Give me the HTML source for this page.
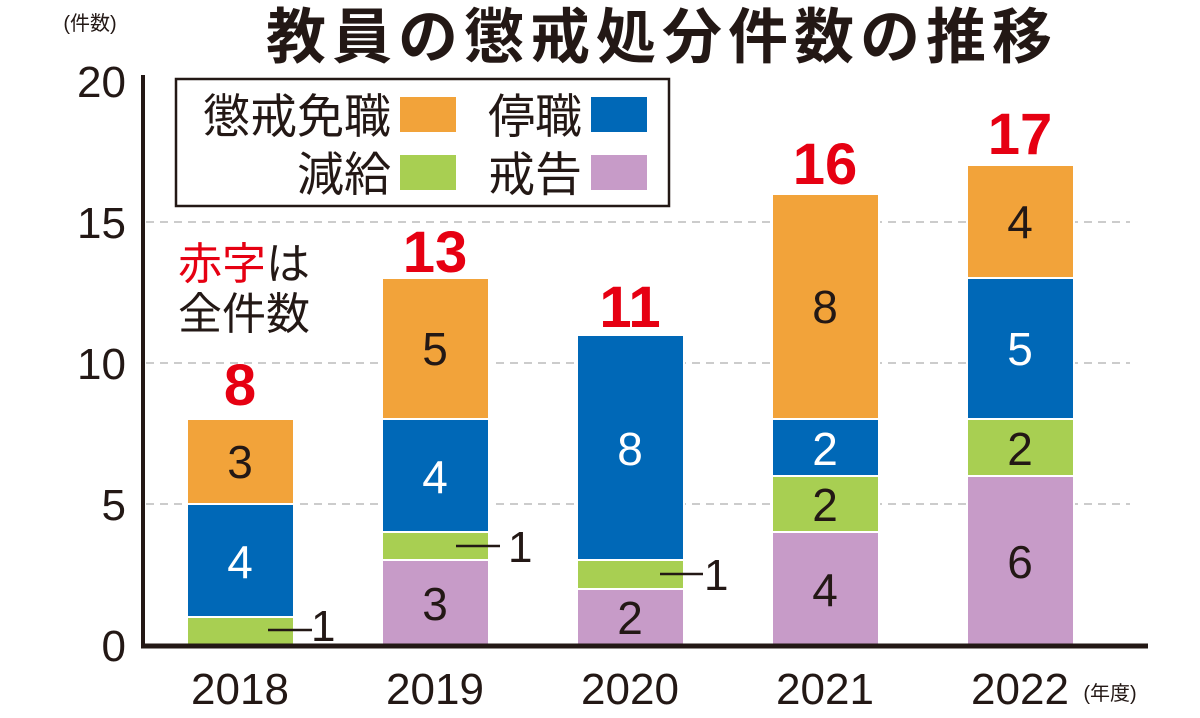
<!DOCTYPE html>
<html><head><meta charset="utf-8"><style>
html,body{margin:0;padding:0;background:#fff;}
svg text{font-family:"Liberation Sans","Noto Sans CJK JP",sans-serif;}
</style></head><body>
<svg width="1200" height="713" viewBox="0 0 1200 713" xmlns="http://www.w3.org/2000/svg">
<rect width="1200" height="713" fill="#fff"/>
<text x="662" y="58" text-anchor="middle" font-size="60" font-weight="bold" fill="#231815" letter-spacing="6">教員の懲戒処分件数の推移</text>
<text x="90" y="30" text-anchor="middle" font-size="20" fill="#231815">(件数)</text>
<g stroke="#bbb" stroke-width="1.5" stroke-dasharray="8,6">
<line x1="146" y1="504" x2="1130" y2="504"/>
<line x1="146" y1="363" x2="1130" y2="363"/>
<line x1="146" y1="222" x2="1130" y2="222"/>
</g>
<g font-size="44" fill="#231815" text-anchor="end">
<text x="126" y="661">0</text>
<text x="126" y="520">5</text>
<text x="126" y="379">10</text>
<text x="126" y="238">15</text>
<text x="126" y="97">20</text>
</g>
<g stroke="#fff" stroke-width="2">
<rect x="187" y="617" width="107" height="28" fill="#a8cf52"/>
<rect x="187" y="504" width="107" height="113" fill="#0068b7"/>
<rect x="187" y="419" width="107" height="85" fill="#f2a33a"/>
<rect x="382" y="560" width="107" height="85" fill="#c79bc8"/>
<rect x="382" y="532" width="107" height="28" fill="#a8cf52"/>
<rect x="382" y="419" width="107" height="113" fill="#0068b7"/>
<rect x="382" y="278" width="107" height="141" fill="#f2a33a"/>
<rect x="577" y="589" width="107" height="56" fill="#c79bc8"/>
<rect x="577" y="560" width="107" height="29" fill="#a8cf52"/>
<rect x="577" y="335" width="107" height="225" fill="#0068b7"/>
<rect x="772" y="532" width="107" height="113" fill="#c79bc8"/>
<rect x="772" y="476" width="107" height="56" fill="#a8cf52"/>
<rect x="772" y="419" width="107" height="57" fill="#0068b7"/>
<rect x="772" y="194" width="107" height="225" fill="#f2a33a"/>
<rect x="967" y="476" width="107" height="169" fill="#c79bc8"/>
<rect x="967" y="419" width="107" height="57" fill="#a8cf52"/>
<rect x="967" y="278" width="107" height="141" fill="#0068b7"/>
<rect x="967" y="165" width="107" height="113" fill="#f2a33a"/>
</g>
<line x1="143" y1="75" x2="143" y2="648" stroke="#231815" stroke-width="4"/>
<line x1="141" y1="646" x2="1148" y2="646" stroke="#231815" stroke-width="5"/>
<g font-size="46" text-anchor="middle">
<text x="240" y="478" fill="#231815">3</text>
<text x="240" y="578" fill="#fff">4</text>
<text x="435" y="365" fill="#231815">5</text>
<text x="435" y="493" fill="#fff">4</text>
<text x="435" y="620" fill="#231815">3</text>
<text x="630" y="465" fill="#fff">8</text>
<text x="630" y="634" fill="#231815">2</text>
<text x="825" y="323" fill="#231815">8</text>
<text x="825" y="465" fill="#fff">2</text>
<text x="825" y="521" fill="#231815">2</text>
<text x="825" y="606" fill="#231815">4</text>
<text x="1020" y="238" fill="#231815">4</text>
<text x="1020" y="365" fill="#fff">5</text>
<text x="1020" y="465" fill="#231815">2</text>
<text x="1020" y="578" fill="#231815">6</text>
</g>
<g stroke="#231815" stroke-width="2.5">
<line x1="268" y1="630" x2="312" y2="630"/>
<line x1="456" y1="546" x2="500" y2="546"/>
<line x1="660" y1="574" x2="703" y2="574"/>
</g>
<g font-size="44" fill="#231815">
<text x="311" y="641">1</text>
<text x="508" y="562">1</text>
<text x="704" y="590">1</text>
</g>
<g font-size="58" font-weight="bold" fill="#e60012" text-anchor="middle">
<text x="240" y="405">8</text>
<text x="435" y="272">13</text>
<text x="630" y="327">11</text>
<text x="825" y="184">16</text>
<text x="1020" y="154">17</text>
</g>
<g font-size="44" fill="#231815" text-anchor="middle">
<text x="240" y="704">2018</text>
<text x="435" y="704">2019</text>
<text x="630" y="704">2020</text>
<text x="825" y="704">2021</text>
<text x="1020" y="704">2022</text>
</g>
<text x="1110" y="700" text-anchor="middle" font-size="20" fill="#231815">(年度)</text>
<rect x="176" y="79" width="493" height="127" fill="#fff" stroke="#231815" stroke-width="2.5"/>
<g font-size="47" fill="#231815" text-anchor="end">
<text x="391" y="133">懲戒免職</text>
<text x="582" y="133">停職</text>
<text x="391" y="191">減給</text>
<text x="582" y="191">戒告</text>
</g>
<rect x="400" y="97" width="56" height="35" fill="#f2a33a"/>
<rect x="591" y="97" width="56" height="35" fill="#0068b7"/>
<rect x="400" y="155" width="56" height="35" fill="#a8cf52"/>
<rect x="591" y="155" width="56" height="35" fill="#c79bc8"/>
<text x="178" y="279" font-size="44"><tspan fill="#e60012">赤字</tspan><tspan fill="#231815">は</tspan></text>
<text x="178" y="329" font-size="44" fill="#231815">全件数</text>
</svg>
</body></html>
